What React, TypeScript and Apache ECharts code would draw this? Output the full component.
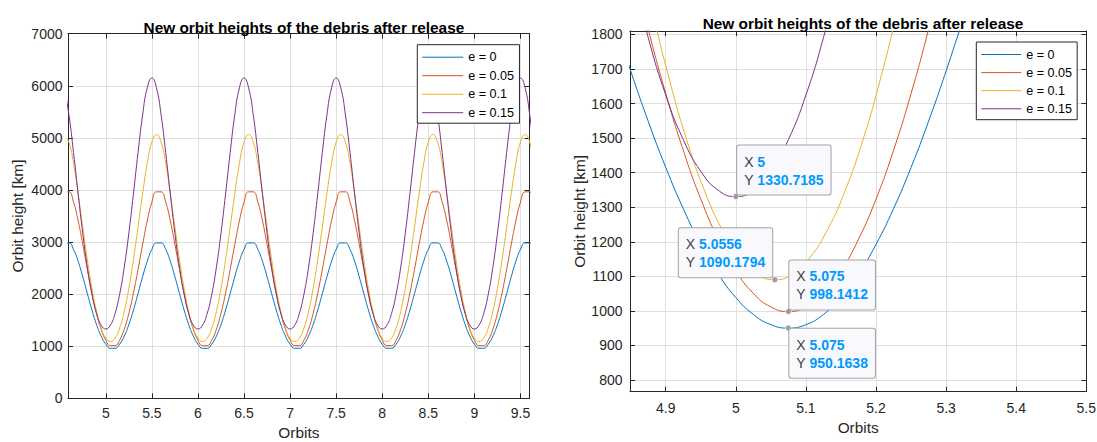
import React, { useEffect, useRef } from "react";
import * as echarts from "echarts";

// ---------- Left chart: orbit heights over 5 orbits ----------
const leftX = [
  4.55, 4.6, 4.65, 4.7, 4.75, 4.8, 4.85, 4.9, 4.95, 5, 5.05, 5.1, 5.15, 5.2, 5.25, 5.3, 5.35, 5.4, 5.45, 5.5,
  5.55, 5.6, 5.65, 5.7, 5.75, 5.8, 5.85, 5.9, 5.95, 6, 6.05, 6.1, 6.15, 6.2, 6.25, 6.3, 6.35, 6.4, 6.45, 6.5,
  6.55, 6.6, 6.65, 6.7, 6.75, 6.8, 6.85, 6.9, 6.95, 7, 7.05, 7.1, 7.15, 7.2, 7.25, 7.3, 7.35, 7.4, 7.45, 7.5,
  7.55, 7.6, 7.65, 7.7, 7.75, 7.8, 7.85, 7.9, 7.95, 8, 8.05, 8.1, 8.15, 8.2, 8.25, 8.3, 8.35, 8.4, 8.45, 8.5,
  8.55, 8.6, 8.65, 8.7, 8.75, 8.8, 8.85, 8.9, 8.95, 9, 9.05, 9.1, 9.15, 9.2, 9.25, 9.3, 9.35, 9.4, 9.45, 9.5,
  9.55, 9.6, 9.65,
];
const leftE0 = [
  2984, 2984, 2859, 2631, 2335, 2010, 1694, 1415, 1192, 1039, 960, 960, 1039, 1192, 1415, 1694, 2010, 2335, 2631, 2859,
  2984, 2984, 2859, 2631, 2335, 2010, 1694, 1415, 1192, 1039, 960, 960, 1039, 1192, 1415, 1694, 2010, 2335, 2631, 2859,
  2984, 2984, 2859, 2631, 2335, 2010, 1694, 1415, 1192, 1039, 960, 960, 1039, 1192, 1415, 1694, 2010, 2335, 2631, 2859,
  2984, 2984, 2859, 2631, 2335, 2010, 1694, 1415, 1192, 1039, 960, 960, 1039, 1192, 1415, 1694, 2010, 2335, 2631, 2859,
  2984, 2984, 2859, 2631, 2335, 2010, 1694, 1415, 1192, 1039, 960, 960, 1039, 1192, 1415, 1694, 2010, 2335, 2631, 2859,
  2984, 2984, 2859,
];
const leftE005 = [
  3964, 3964, 3766, 3409, 2956, 2475, 2020, 1629, 1324, 1116, 1011, 1011, 1116, 1324, 1629, 2020, 2475, 2956, 3409, 3766,
  3964, 3964, 3766, 3409, 2956, 2475, 2020, 1629, 1324, 1116, 1011, 1011, 1116, 1324, 1629, 2020, 2475, 2956, 3409, 3766,
  3964, 3964, 3766, 3409, 2956, 2475, 2020, 1629, 1324, 1116, 1011, 1011, 1116, 1324, 1629, 2020, 2475, 2956, 3409, 3766,
  3964, 3964, 3766, 3409, 2956, 2475, 2020, 1629, 1324, 1116, 1011, 1011, 1116, 1324, 1629, 2020, 2475, 2956, 3409, 3766,
  3964, 3964, 3766, 3409, 2956, 2475, 2020, 1629, 1324, 1116, 1011, 1011, 1116, 1324, 1629, 2020, 2475, 2956, 3409, 3766,
  3964, 3964, 3766,
];
const leftE010 = [
  5065, 4918, 4512, 3934, 3288, 2660, 2109, 1666, 1346, 1154, 1090, 1154, 1346, 1666, 2109, 2660, 3288, 3934, 4512, 4918,
  5065, 4918, 4512, 3934, 3288, 2660, 2109, 1666, 1346, 1154, 1090, 1154, 1346, 1666, 2109, 2660, 3288, 3934, 4512, 4918,
  5065, 4918, 4512, 3934, 3288, 2660, 2109, 1666, 1346, 1154, 1090, 1154, 1346, 1666, 2109, 2660, 3288, 3934, 4512, 4918,
  5065, 4918, 4512, 3934, 3288, 2660, 2109, 1666, 1346, 1154, 1090, 1154, 1346, 1666, 2109, 2660, 3288, 3934, 4512, 4918,
  5065, 4918, 4512, 3934, 3288, 2660, 2109, 1666, 1346, 1154, 1090, 1154, 1346, 1666, 2109, 2660, 3288, 3934, 4512, 4918,
  5065, 4918, 4512,
];
const leftE015 = [
  5961, 5444, 4720, 3925, 3167, 2512, 1995, 1625, 1404, 1331, 1404, 1625, 1995, 2512, 3167, 3925, 4720, 5444, 5961, 6150,
  5961, 5444, 4720, 3925, 3167, 2512, 1995, 1625, 1404, 1331, 1404, 1625, 1995, 2512, 3167, 3925, 4720, 5444, 5961, 6150,
  5961, 5444, 4720, 3925, 3167, 2512, 1995, 1625, 1404, 1331, 1404, 1625, 1995, 2512, 3167, 3925, 4720, 5444, 5961, 6150,
  5961, 5444, 4720, 3925, 3167, 2512, 1995, 1625, 1404, 1331, 1404, 1625, 1995, 2512, 3167, 3925, 4720, 5444, 5961, 6150,
  5961, 5444, 4720, 3925, 3167, 2512, 1995, 1625, 1404, 1331, 1404, 1625, 1995, 2512, 3167, 3925, 4720, 5444, 5961, 6150,
  5961, 5444, 4720,
];

// ---------- Right chart: zoom around the first perigee ----------
const rightX = [
  4.825, 4.85, 4.875, 4.9, 4.925, 4.95, 4.975, 5, 5.025, 5.05, 5.075, 5.1, 5.125, 5.15, 5.175, 5.2, 5.225, 5.25,
  5.275, 5.3, 5.325,
];
const rightE0 = [
  1849.33, 1694.39, 1548.77, 1415.2, 1295.87, 1192.49, 1106.38, 1038.5, 989.57, 960.04, 950.1638, 960.04, 989.57,
  1038.5, 1106.38, 1192.49, 1295.87, 1415.2, 1548.77, 1694.39, 1849.33,
];
const rightE005 = [
  2241.84, 2020.32, 1814.95, 1628.93, 1464.58, 1323.61, 1207.16, 1115.99, 1050.59, 1011.27, 998.1412, 1011.27,
  1050.59, 1115.99, 1207.16, 1323.61, 1464.58, 1628.93, 1814.95, 2020.32, 2241.84,
];
const rightXe010 = [
  4.8556, 4.8806, 4.9056, 4.9306, 4.9556, 4.9806, 5.0056, 5.0306, 5.0556, 5.0806, 5.1056, 5.1306, 5.1556, 5.1806,
  5.2056, 5.2306, 5.2556,
];
const rightE010 = [
  2108.66, 1872.59, 1666.09, 1490.44, 1346.4, 1234.29, 1154.21, 1106.19, 1090.1794, 1106.19, 1154.21, 1234.29,
  1346.4, 1490.44, 1666.09, 1872.59, 2108.66,
];
const rightE015 = [
  2235.29, 1994.54, 1790.92, 1624.69, 1495.78, 1403.98, 1349.02, 1330.7185, 1349.02, 1403.98, 1495.78, 1624.69,
  1790.92, 1994.54, 2235.29,
];

// data tips (x, y) shown on the right chart
const tipE015 = [5, 1330.7185];
const tipE010 = [5.0556, 1090.1794];
const tipE005 = [5.075, 998.1412];
const tipE0 = [5.075, 950.1638];

const seriesNames = ["e = 0", "e = 0.05", "e = 0.1", "e = 0.15"];
const seriesColors = ["#0072BD", "#D95319", "#EDB120", "#7E2F8E"];
const titleText = "New orbit heights of the debris after release";

const FONT = "'Liberation Sans', Arial, Helvetica, sans-serif";
const AX = "#262626";
const GRIDC = "#dfdfdf";

function zip(xs: number[], ys: number[]) {
  return ys.map((y, i) => [xs[i], y]);
}

function axes(
  dir: "x" | "y",
  gridIndex: number,
  min: number,
  max: number,
  splitNumber: number,
  name: string,
  nameGap: number,
  margin: number,
  showMin: boolean,
  showMax: boolean
) {
  const common = {
    type: "value",
    gridIndex,
    min,
    max,
    splitNumber,
    axisLine: { show: true, onZero: false, lineStyle: { color: AX, width: 1 } },
    axisTick: { show: true, inside: true, length: 5, lineStyle: { color: AX, width: 1 } },
  };
  const main = {
    ...common,
    position: dir === "x" ? "bottom" : "left",
    axisLabel: {
      show: true,
      color: AX,
      fontSize: 14,
      fontFamily: FONT,
      margin,
      showMinLabel: showMin,
      showMaxLabel: showMax,
      formatter: (v: number) => String(v),
    },
    splitLine: { show: true, lineStyle: { color: GRIDC, width: 1 } },
    name,
    nameLocation: "middle",
    nameGap,
    nameRotate: dir === "y" ? 90 : 0,
    nameTextStyle: { color: AX, fontSize: 15.4, fontFamily: FONT },
  };
  const mirror = {
    ...common,
    position: dir === "x" ? "top" : "right",
    axisLabel: { show: false },
    splitLine: { show: false },
  };
  return [main, mirror];
}

function tipMark(coord: number[], position: number[], verticalAlign: string) {
  return {
    silent: true,
    symbol: "circle",
    symbolSize: 6,
    itemStyle: { color: "#9d9d9d", borderColor: "#eeeeee", borderWidth: 1 },
    data: [
      {
        coord,
        label: {
          show: true,
          formatter: `{l|X} {v|${coord[0]}}\n{l|Y} {v|${coord[1]}}`,
          position,
          align: "left",
          verticalAlign,
          backgroundColor: "#f9f9fd",
          borderColor: "#a3a3a3",
          borderWidth: 1,
          borderRadius: 2,
          padding: [7, 7, 6, 7],
          fontSize: 14,
          fontFamily: FONT,
          color: "#404040",
          lineHeight: 18,
          rich: {
            l: { color: "#404040", fontSize: 14, fontFamily: FONT, lineHeight: 18 },
            v: { color: "#0099ff", fontSize: 14, fontWeight: "bold", fontFamily: FONT, lineHeight: 18 },
          },
        },
      },
    ],
  };
}

function lineSeries(name: string, color: string, data: number[][], ax: number, markPoint?: any) {
  const s: any = {
    type: "line",
    name,
    data,
    xAxisIndex: ax,
    yAxisIndex: ax,
    symbol: "none",
    smooth: 0.5,
    clip: true,
    silent: true,
    color,
    lineStyle: { color, width: 1 },
  };
  if (markPoint) s.markPoint = markPoint;
  return s;
}

function legend(left: number, top: number, itemWidth: number, gap: number, padding: number[]) {
  return {
    data: seriesNames,
    orient: "vertical",
    left,
    top,
    itemWidth,
    itemHeight: 12,
    itemGap: gap,
    padding,
    backgroundColor: "#ffffff",
    borderColor: AX,
    borderWidth: 1,
    selectedMode: false,
    itemStyle: { opacity: 0 },
    lineStyle: { width: 1 },
    textStyle: { fontSize: 12.6, color: "#000", fontFamily: FONT, lineHeight: 12 },
  };
}

export default function App() {
  const ref = useRef<HTMLDivElement>(null);

  useEffect(() => {
    if (!ref.current) return;
    const chart = echarts.init(ref.current, undefined, { renderer: "svg" });

    const [lx0, lx1] = axes("x", 0, 4.59, 9.6, 10, "Orbits", 26, 8, false, false);
    const [ly0, ly1] = axes("y", 0, 0, 7000, 7, "Orbit height [km]", 43, 5.5, true, true);
    const [rx0, rx1] = axes("x", 1, 4.849, 5.5, 6, "Orbits", 27, 9, false, true);
    const [ry0, ry1] = axes("y", 1, 766, 1810, 10, "Orbit height [km]", 43, 7.5, false, false);
    (ly0 as any).interval = 1000;
    (ly1 as any).interval = 1000;

    const option: any = {
      animation: false,
      backgroundColor: "#ffffff",
      textStyle: { fontFamily: FONT },
      title: [
        {
          text: titleText,
          left: 298.9,
          top: 13.5,
          textAlign: "center",
          textStyle: { fontSize: 15.4, fontWeight: "bold", color: "#000", fontFamily: FONT, lineHeight: 18 },
        },
        {
          text: titleText,
          left: 858,
          top: 9,
          textAlign: "center",
          textStyle: { fontSize: 15.4, fontWeight: "bold", color: "#000", fontFamily: FONT, lineHeight: 18 },
        },
      ],
      grid: [
        { left: 68, top: 33.7, width: 461.7, height: 364.6, outerBoundsMode: "none", containLabel: false },
        { left: 630, top: 31, width: 456.3, height: 360.7, outerBoundsMode: "none", containLabel: false },
      ],
      xAxis: [lx0, lx1, rx0, rx1],
      yAxis: [ly0, ly1, ry0, ry1],
      legend: [
        legend(417.3, 44.7, 41, 5.5, [6, 5.4, 4, 4.4]),
        legend(976.3, 42, 40, 5.1, [6, 5.1, 4.4, 4.4]),
      ],
      series: [
        lineSeries(seriesNames[0], seriesColors[0], zip(leftX, leftE0), 0),
        lineSeries(seriesNames[1], seriesColors[1], zip(leftX, leftE005), 0),
        lineSeries(seriesNames[2], seriesColors[2], zip(leftX, leftE010), 0),
        lineSeries(seriesNames[3], seriesColors[3], zip(leftX, leftE015), 0),
        lineSeries(seriesNames[0], seriesColors[0], zip(rightX, rightE0), 2, tipMark(tipE0, [4.4, 4.2], "top")),
        lineSeries(seriesNames[1], seriesColors[1], zip(rightX, rightE005), 2, tipMark(tipE005, [4.4, 1.5], "bottom")),
        lineSeries(seriesNames[2], seriesColors[2], zip(rightXe010, rightE010), 2, tipMark(tipE010, [-92.5, 1], "bottom")),
        lineSeries(seriesNames[3], seriesColors[3], zip(rightX, rightE015), 2, tipMark(tipE015, [4.8, 1.5], "bottom")),
      ],
    };
    chart.setOption(option);
    return () => chart.dispose();
  }, []);

  return (
    <div
      ref={ref}
      style={{ position: "absolute", left: 0, top: 0, width: 1097, height: 442, background: "#ffffff" }}
    />
  );
}
